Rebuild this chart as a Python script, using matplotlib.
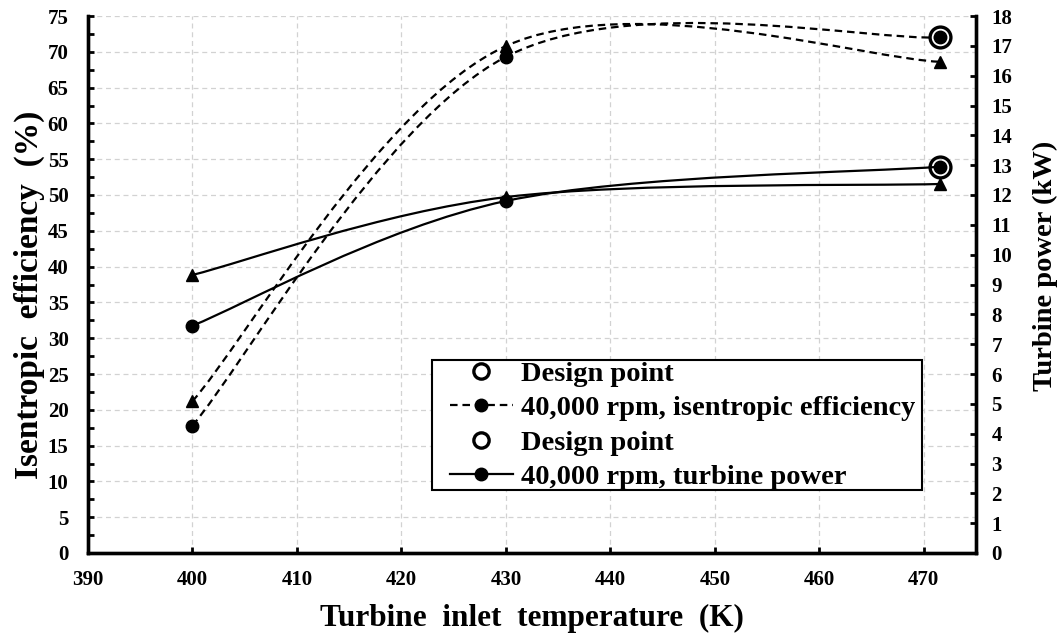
import matplotlib
matplotlib.use("Agg")
import matplotlib.pyplot as plt
import numpy as np
from matplotlib.path import Path
from matplotlib.patches import PathPatch, Rectangle
from matplotlib.lines import Line2D
from matplotlib.ticker import MultipleLocator

plt.rcParams['font.family'] = ['Liberation Serif', 'DejaVu Serif']
plt.rcParams['font.weight'] = 'bold'

# turbine inlet temperature (K)
temp = [400, 430, 471.6]

# isentropic efficiency (%)
eff_circ = [17.8, 69.3, 72.0]
eff_tri = [21.2, 70.8, 68.6]

# turbine power (kW)
pow_circ = [7.62, 11.8, 12.95]
pow_tri = [9.32, 11.93, 12.37]

# design point
design_temp = 471.6
design_eff = 72.0
design_pow = 12.95

xticks = [390, 400, 410, 420, 430, 440, 450, 460, 470]


def smooth(x, y):
    # excel-like smoothed line through the points (bezier segments)
    p = np.column_stack([x, y]).astype(float)
    n = len(p)
    verts = [p[0]]
    codes = [Path.MOVETO]
    for i in range(n - 1):
        p0 = p[max(i - 1, 0)]
        p1 = p[i]
        p2 = p[i + 1]
        p3 = p[min(i + 2, n - 1)]
        verts += [p1 + (p2 - p0) / 6, p2 - (p3 - p1) / 6, p2]
        codes += [Path.CURVE4] * 3
    return Path(verts, codes)


W, H = 1060, 633
fig = plt.figure(figsize=(W/100, H/100), dpi=100)
ax = fig.add_axes([88/W, 1-553/H, (976-88)/W, (553-16)/H])
ax2 = ax.twinx()

dash = (3.4, 2.2)

ax.add_patch(PathPatch(smooth(temp, eff_circ), fill=False, color='black',
                       lw=1.6, linestyle=(0, dash), zorder=3))
ax.add_patch(PathPatch(smooth(temp, eff_tri), fill=False, color='black',
                       lw=1.6, linestyle=(0, dash), zorder=3))
ax.plot(temp, eff_circ, 'o', color='black', ms=9, zorder=4)
ax.plot(temp, eff_tri, '^', color='black', ms=9, zorder=4)
ax.plot([design_temp], [design_eff], 'o', mfc='none', mec='black', ms=15,
        mew=2.4, zorder=5)

ax2.add_patch(PathPatch(smooth(temp, pow_circ), fill=False, color='black',
                        lw=1.6, zorder=3))
ax2.add_patch(PathPatch(smooth(temp, pow_tri), fill=False, color='black',
                        lw=1.6, zorder=3))
ax2.plot(temp, pow_circ, 'o', color='black', ms=9, zorder=4)
ax2.plot(temp, pow_tri, '^', color='black', ms=9, zorder=4)
ax2.plot([design_temp], [design_pow], 'o', mfc='none', mec='black', ms=15,
         mew=2.4, zorder=5)

ax.set_xlim(390, 475)
ax.set_ylim(0, 75)
ax2.set_ylim(0, 18)
ax.set_xticks(xticks)
ax.yaxis.set_major_locator(MultipleLocator(5))
ax.yaxis.set_minor_locator(MultipleLocator(2.5))
ax2.yaxis.set_major_locator(MultipleLocator(1))

ax.grid(True, which='major', color='#d2d2d2', linestyle=(0, (4, 3)), lw=0.9)
ax.set_axisbelow(True)

for a in (ax, ax2):
    for s in a.spines.values():
        s.set_linewidth(2.4)
    a.spines['top'].set_visible(False)
ax.tick_params(axis='both', which='both', direction='in', length=4,
               width=2, labelsize=15, pad=14)
ax.tick_params(axis='x', pad=12)
ax2.tick_params(axis='y', which='both', direction='in', length=4,
                width=2, labelsize=15, pad=11)

ax.set_xlabel('Turbine  inlet  temperature  (K)', fontsize=22.5,
              fontweight='bold', labelpad=10)
ax.set_ylabel('Isentropic  efficiency  (%)', fontsize=24,
              fontweight='bold')
ax.yaxis.set_label_coords(-0.048, 0.48)
ax2.set_ylabel('Turbine power (kW)', fontsize=20.5, fontweight='bold')
ax2.yaxis.set_label_coords(1.064, 0.535)

# legend box (drawn separately so the inner padding matches)
box = Rectangle((432/W, 1-490/H), (922-432)/W, (490-360)/H,
                transform=fig.transFigure, facecolor='white',
                edgecolor='black', lw=1.5, zorder=8)
ax2.add_patch(box)

handles = [
    Line2D([], [], ls='none', marker='o', mfc='none', mec='black', ms=11,
           mew=2.4),
    Line2D([], [], ls=(0, dash), lw=1.6, color='black', marker='o', ms=9),
    Line2D([], [], ls='none', marker='o', mfc='none', mec='black', ms=11,
           mew=2.4),
    Line2D([], [], ls='-', lw=1.6, color='black', marker='o', ms=9),
]
labels = ['Design point', '40,000 rpm, isentropic efficiency',
          'Design point', '40,000 rpm, turbine power']
leg = ax2.legend(handles, labels, loc='upper left',
                 bbox_to_anchor=(450/W, 1-361/H),
                 bbox_transform=fig.transFigure, borderaxespad=0,
                 frameon=False, fontsize=20.5, handlelength=2.2,
                 handletextpad=0.3, labelspacing=0.3, borderpad=0)
leg.set_zorder(10)
for t in leg.get_texts():
    t.set_fontweight('bold')

fig.savefig('out.png', dpi=100)
